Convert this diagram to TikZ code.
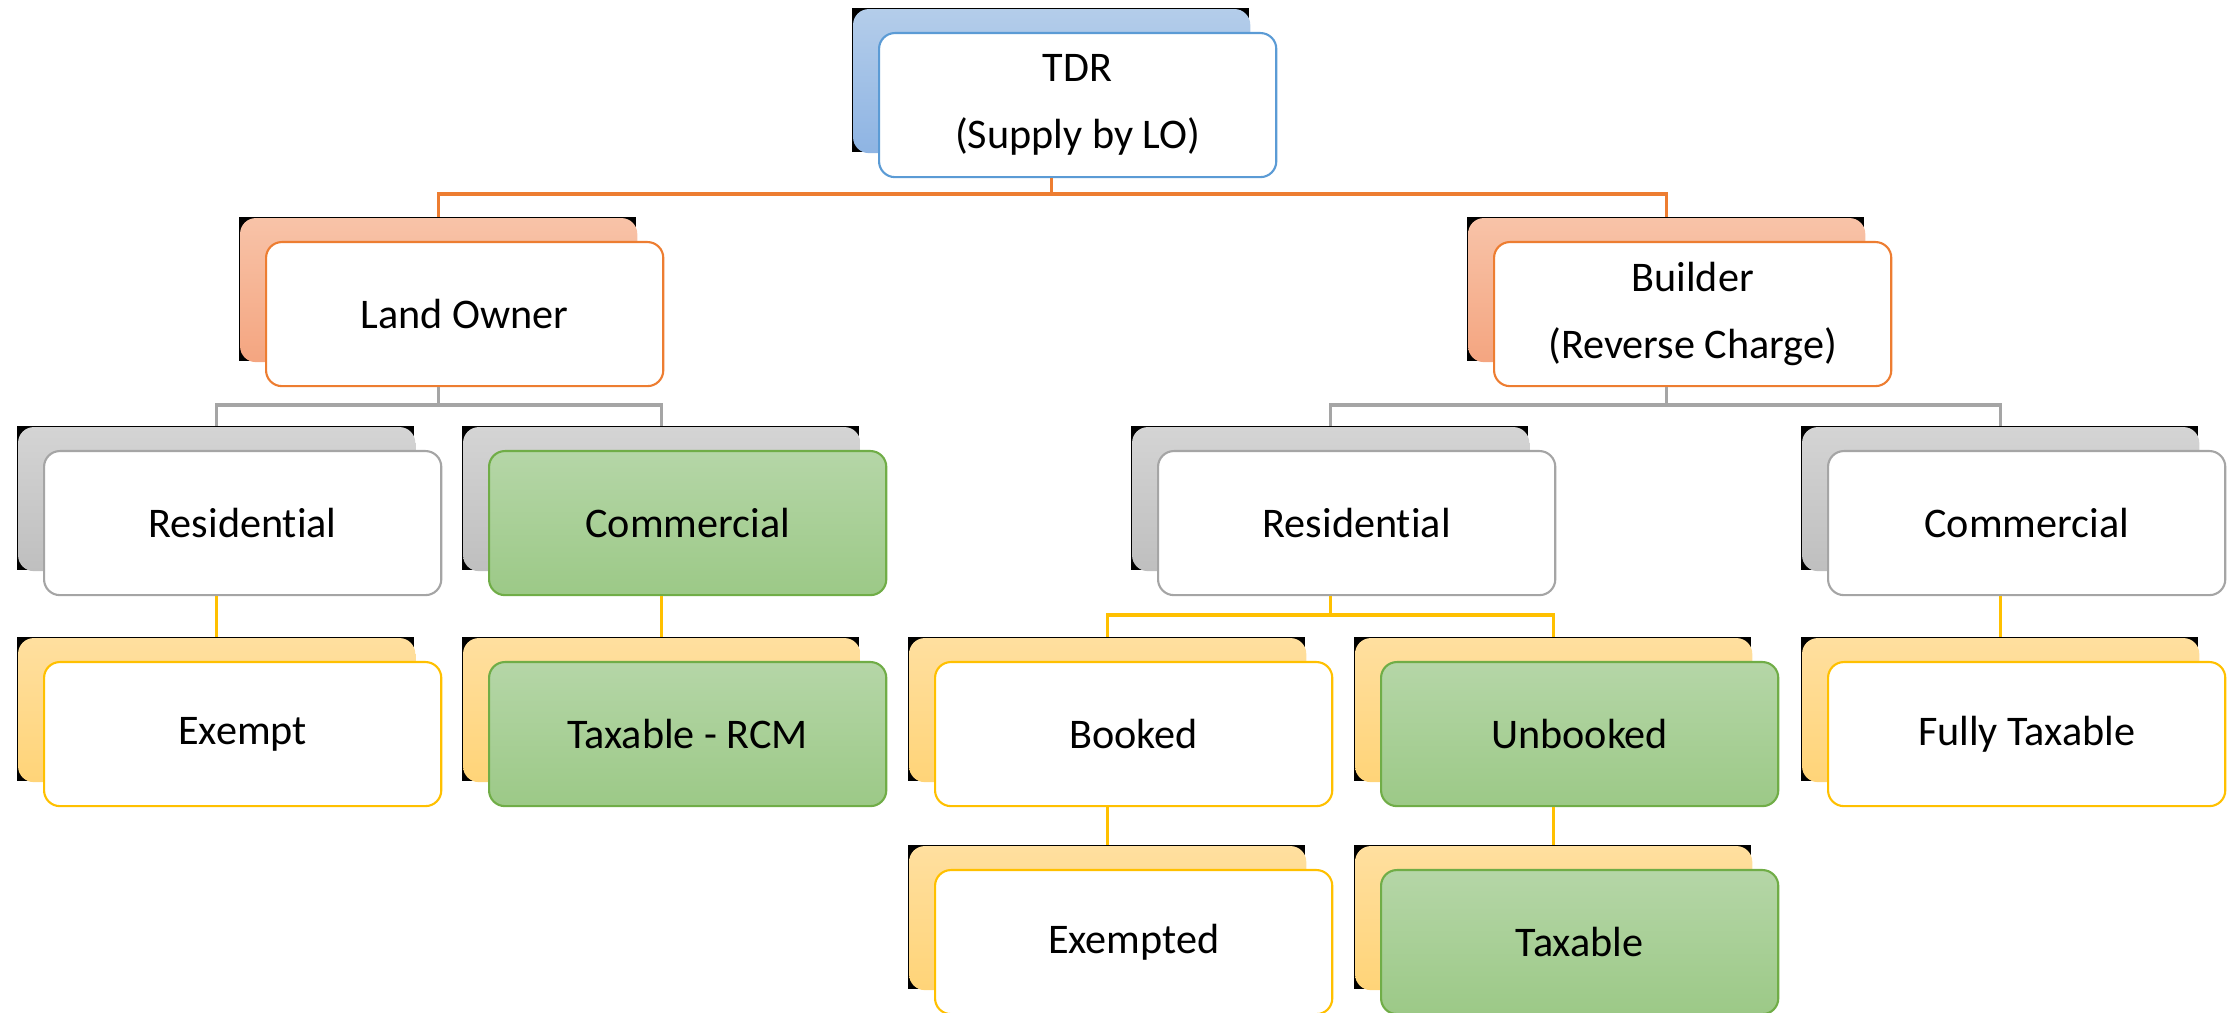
\documentclass[tikz,border=0pt]{standalone}
\usepackage{fontspec}
\setmainfont{Carlito}[Ligatures=NoCommon]
\usepackage{tikz}
\usetikzlibrary{positioning, calc}
\definecolor{bluetop}    {HTML}{B4CDEA}
\definecolor{bluebot}    {HTML}{8EB4E3}
\definecolor{blueline}   {HTML}{5B9BD5}
\definecolor{orangetop}  {HTML}{F8C3A8}
\definecolor{orangebot}  {HTML}{F4A580}
\definecolor{orangeline} {HTML}{ED7D31}
\definecolor{graytop}    {HTML}{D4D4D4}
\definecolor{graybot}    {HTML}{BFBFBF}
\definecolor{grayline}   {HTML}{A5A5A5}
\definecolor{yellowtop}  {HTML}{FFDF9F}
\definecolor{yellowbot}  {HTML}{FFD478}
\definecolor{yellowline} {HTML}{FFC000}
\definecolor{greentop}   {HTML}{B5D6A7}
\definecolor{greenbot}   {HTML}{9CC987}
\definecolor{greenline}  {HTML}{70AD47}

\tikzset{
  card/.style={rectangle, rounded corners=4.5pt, minimum width=3.97cm, minimum height=1.44cm,
               inner sep=0pt, align=center, font=\fontsize{12}{19}\selectfont, line width=0.6pt},
  backbox/.style={card, top color=#1top, bottom color=#1bot},
  plainbox/.style={card, draw=#1line, fill=white},
  taxbox/.style={card, draw=greenline, top color=greentop, bottom color=greenbot},
  link/.style={draw=#1line, line width=0.9pt},
}

\begin{document}
\begin{tikzpicture}[x=0.01cm, y=-0.01cm]
  \useasboundingbox (0,0) rectangle (2229,1013);
  % cards: back plate, then front box
  \foreach \n/\x/\y/\c/\s/\t in {
      tdr/878/32/blue/plainbox/{TDR\\(Supply by LO)},
      lo/265/241/orange/plainbox/{Land Owner},
      bld/1493/241/orange/plainbox/{Builder\\(Reverse Charge)},
      lores/43/450/gray/plainbox/{Residential},
      locom/488/450/gray/taxbox/{Commercial},
      bres/1157/450/gray/plainbox/{Residential},
      bcom/1827/450/gray/plainbox/{Commercial},
      loex/43/661/yellow/plainbox/{Exempt},
      lorcm/488/661/yellow/taxbox/{Taxable - RCM},
      bbook/934/661/yellow/plainbox/{Booked},
      bunbook/1380/661/yellow/taxbox/{Unbooked},
      bfull/1827/661/yellow/plainbox/{Fully Taxable},
      bexd/934/869/yellow/plainbox/{Exempted},
      btax/1380/869/yellow/taxbox/{Taxable}}
  {
    \fill[black] (\x-26,\y-24) rectangle ++(397,144);
    \node[backbox=\c, anchor=north west] (\n-b) at (\x-26,\y-24) {};
    \node[\s=\c, anchor=north west] (\n) at (\x,\y) {\t};
  }

  % bus levels
  \coordinate (bus1) at (0,194);
  \coordinate (bus2) at (0,405);
  \coordinate (bus3) at (0,615);

  \draw[link=orange] (tdr-b |- tdr.south) -- (tdr-b |- bus1) -| (lo-b.north);
  \draw[link=orange] (tdr-b |- bus1) -| (bld-b.north);

  \draw[link=gray] (lo-b |- lo.south) -- (lo-b |- bus2) -| (lores-b.north);
  \draw[link=gray] (lo-b |- bus2) -| (locom-b.north);
  \draw[link=gray] (bld-b |- bld.south) -- (bld-b |- bus2) -| (bres-b.north);
  \draw[link=gray] (bld-b |- bus2) -| (bcom-b.north);

  \draw[link=yellow] (bres-b |- bres.south) -- (bres-b |- bus3) -| (bbook-b.north);
  \draw[link=yellow] (bres-b |- bus3) -| (bunbook-b.north);

  \draw[link=yellow] (lores-b |- lores.south) -- (loex-b.north);
  \draw[link=yellow] (locom-b |- locom.south) -- (lorcm-b.north);
  \draw[link=yellow] (bcom-b |- bcom.south) -- (bfull-b.north);
  \draw[link=yellow] (bbook-b |- bbook.south) -- (bexd-b.north);
  \draw[link=yellow] (bunbook-b |- bunbook.south) -- (btax-b.north);
\end{tikzpicture}
\end{document}
